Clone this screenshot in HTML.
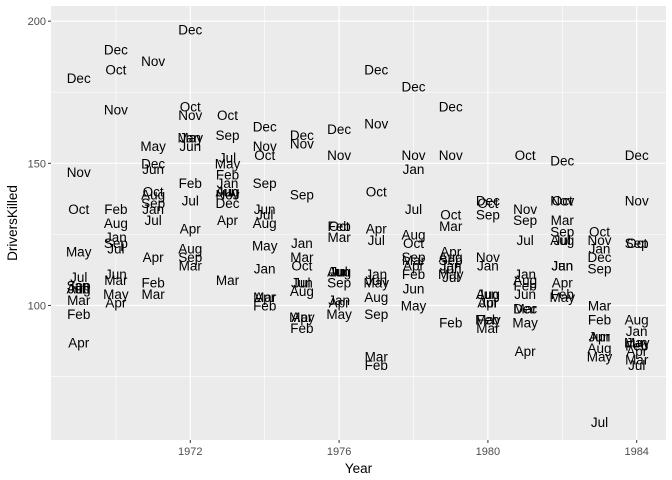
<!DOCTYPE html>
<html><head><meta charset="utf-8"><style>
body{margin:0;background:#fff;}
svg{display:block;font-family:"Liberation Sans",Arial,sans-serif;}
</style></head><body>
<svg id="chart" width="672" height="480"></svg>
<script>
const months=["Jan","Feb","Mar","Apr","May","Jun","Jul","Aug","Sep","Oct","Nov","Dec"];
const years=[1969,1970,1971,1972,1973,1974,1975,1976,1977,1978,1979,1980,1981,1982,1983,1984];
const killed=[
[107,97,102,87,119,106,110,106,107,134,147,180],
[124,134,109,101,104,111,120,129,122,183,169,190],
[134,108,104,117,156,148,130,139,136,140,186,150],
[159,143,114,127,159,156,137,120,117,170,167,197],
[143,146,109,130,150,140,152,140,160,167,139,136],
[113,100,103,103,121,134,132,129,143,153,156,163],
[122,92,117,96,96,108,108,105,139,114,157,160],
[102,128,124,101,97,112,112,112,108,128,153,162],
[111,79,82,127,108,109,123,103,97,140,164,183],
[148,111,116,114,100,106,134,125,117,122,153,177],
[114,94,128,119,111,113,110,117,116,132,153,170],
[114,95,92,101,95,104,101,104,132,136,117,137],
[111,107,99,84,94,104,123,109,130,153,134,99],
[114,104,130,108,103,114,123,123,126,137,137,151],
[120,95,100,89,82,89,59,85,113,126,123,117],
[91,86,81,84,87,87,79,95,122,122,137,153]];
const yTicks=[100,150,200];
const xTicks=[1972,1976,1980,1984];
const NS="http://www.w3.org/2000/svg";
const svg=document.getElementById('chart');
const L=51,R=666,T=6,B=440;
const xs=y=>190.3+(y-1972)*37.2;
const ys=v=>163.3-(v-150)*2.843;
function mk(t,a,p){const e=document.createElementNS(NS,t);for(const k in a)e.setAttribute(k,a[k]);(p||svg).appendChild(e);return e;}
const bg=mk('rect',{x:L,y:T,width:R-L,height:B-T,fill:'#ebebeb'});


[75,125,175].forEach(v=>{const l=mk('line',{x1:L,x2:R,y1:ys(v),y2:ys(v),stroke:'#fff','stroke-width':0.6});

});
[1970,1974,1978,1982].forEach(v=>{const l=mk('line',{y1:T,y2:B,x1:xs(v),x2:xs(v),stroke:'#fff','stroke-width':0.6});

});
yTicks.forEach(v=>{const l=mk('line',{x1:L,x2:R,y1:ys(v),y2:ys(v),stroke:'#fff','stroke-width':1.2});


mk('line',{x1:L-3,x2:L,y1:ys(v),y2:ys(v),stroke:'#333','stroke-width':1});
const t=mk('text',{x:L-5,y:ys(v)+4,'text-anchor':'end','font-size':11,fill:'#4d4d4d'});t.textContent=v;

});
xTicks.forEach(v=>{const l=mk('line',{y1:T,y2:B,x1:xs(v),x2:xs(v),stroke:'#fff','stroke-width':1.2});


mk('line',{y1:B,y2:B+3,x1:xs(v),x2:xs(v),stroke:'#333','stroke-width':1});
const t=mk('text',{x:xs(v),y:B+15,'text-anchor':'middle','font-size':11,fill:'#4d4d4d'});t.textContent=v;

});
years.forEach((yr,i)=>killed[i].forEach((v,m)=>{
const t=mk('text',{x:xs(yr),y:ys(v)+5,'text-anchor':'middle','font-size':13.5,fill:'#000'});
t.textContent=months[m];


}));
const xt=mk('text',{x:(L+R)/2,y:473,'text-anchor':'middle','font-size':13.5,fill:'#000'});xt.textContent='Year';


const yt=mk('text',{x:0,y:0,'text-anchor':'middle','font-size':13.5,fill:'#000',transform:`translate(17,${(T+B)/2}) rotate(-90)`});yt.textContent='DriversKilled';


</script>
</body></html>
